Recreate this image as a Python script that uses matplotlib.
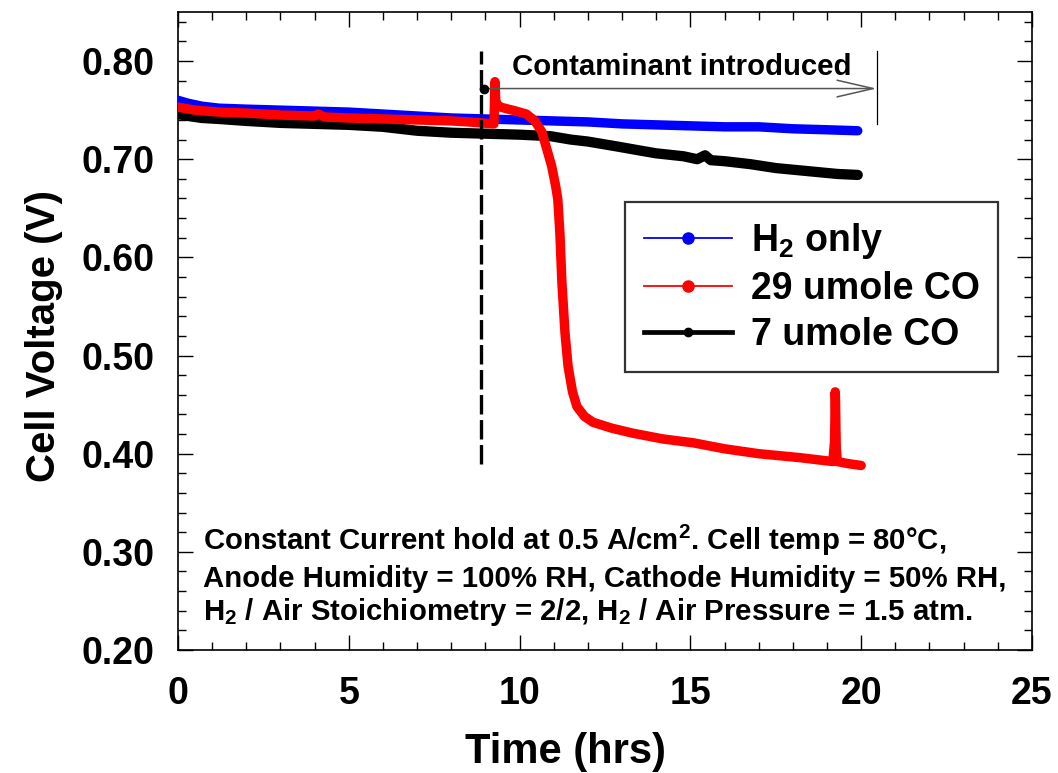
import matplotlib
matplotlib.use("Agg")
import matplotlib.pyplot as plt
from matplotlib.lines import Line2D
from matplotlib.ticker import MultipleLocator, FormatStrFormatter

plt.rcParams['font.family'] = ['Liberation Sans', 'DejaVu Sans']
plt.rcParams['font.weight'] = 'bold'
plt.rcParams['mathtext.fontset'] = 'custom'
plt.rcParams['mathtext.rm'] = 'Liberation Sans:bold'
plt.rcParams['mathtext.it'] = 'Liberation Sans:bold'
plt.rcParams['mathtext.bf'] = 'Liberation Sans:bold'
plt.rcParams['lines.scale_dashes'] = False

# ---- data ----
h2_t = [0, 0.3, 0.7, 1.2, 2, 3, 4, 5, 6, 7, 8, 9, 10, 11, 12, 13, 14, 15, 16, 17, 18, 19, 19.9]
h2_v = [0.760, 0.757, 0.754, 0.752, 0.751, 0.750, 0.749, 0.748, 0.746, 0.744, 0.742, 0.741,
        0.740, 0.739, 0.738, 0.736, 0.735, 0.734, 0.733, 0.733, 0.731, 0.730, 0.729]

co29_t = [0.0, 0.5, 1.2, 2.0, 3.0, 4.0, 4.1, 4.3, 5.0, 6.0, 7.0, 8.0, 8.5, 9.25, 9.28, 9.30,
          9.33, 9.45, 9.9, 10.2, 10.45, 10.65, 10.8, 10.94, 11.06, 11.12, 11.18, 11.24, 11.33,
          11.42, 11.55, 11.68, 11.9, 12.15, 12.7, 13.3, 14.2, 15.1, 16.0, 17.0, 18.2, 19.17,
          19.22, 19.23, 19.24, 19.25, 19.26, 19.27, 19.30, 19.6, 20.0]
co29_v = [0.753, 0.750, 0.748, 0.747, 0.745, 0.744, 0.746, 0.743, 0.742, 0.741, 0.740, 0.739,
          0.738, 0.736, 0.779, 0.761, 0.756, 0.753, 0.749, 0.746, 0.739, 0.728, 0.710, 0.693,
          0.672, 0.659, 0.625, 0.574, 0.523, 0.489, 0.463, 0.448, 0.438, 0.432, 0.426, 0.421,
          0.415, 0.411, 0.405, 0.400, 0.396, 0.392, 0.412, 0.432, 0.463, 0.453, 0.427, 0.407,
          0.392, 0.390, 0.388]

co7_t = [0, 0.3, 0.7, 1.2, 2, 3, 4, 5, 6, 7, 8, 9, 10, 10.9, 11.5, 12, 12.85, 13.5, 14,
         14.8, 15.2, 15.43, 15.6, 16, 16.75, 17.5, 18.7, 19.3, 19.9]
co7_v = [0.746, 0.744, 0.742, 0.741, 0.739, 0.737, 0.736, 0.735, 0.733, 0.729, 0.727, 0.726,
         0.725, 0.7235, 0.720, 0.718, 0.713, 0.709, 0.706, 0.703, 0.700, 0.704, 0.699, 0.698,
         0.695, 0.691, 0.687, 0.685, 0.684]

series_labels = [r'H$_2$ only', '29 umole CO', '7 umole CO']
series_colors = ['#0000FF', '#FF0000', '#000000']

contaminant_t = 8.87
arrow_start = (8.95, 0.772)
arrow_end_t = 20.45

x_ticks = [0, 5, 10, 15, 20, 25]
y_ticks = [0.20, 0.30, 0.40, 0.50, 0.60, 0.70, 0.80]

# ---- figure ----
fig = plt.figure(figsize=(10.58, 7.73), dpi=100)
ax = fig.add_axes([0.1682, 0.1591, 0.8072, 0.8254])

band = 6.8
ax.plot(h2_t, h2_v, color=series_colors[0], lw=band, solid_capstyle='round',
        solid_joinstyle='round', zorder=3)
ax.plot(co7_t, co7_v, color=series_colors[2], lw=band + 0.6, solid_capstyle='round',
        solid_joinstyle='round', zorder=4)
ax.plot(co29_t, co29_v, color=series_colors[1], lw=band, solid_capstyle='round',
        solid_joinstyle='round', zorder=5)

# contaminant marker line
ax.plot([contaminant_t, contaminant_t], [0.389, 0.810], color='black', lw=2.4,
        dashes=(14, 4), zorder=6)
ax.plot([arrow_end_t, arrow_end_t], [0.7357, 0.810], color='black', lw=0.9, zorder=6)
ax.annotate('', xy=(arrow_end_t, arrow_start[1]), xytext=arrow_start,
            arrowprops=dict(arrowstyle='->,head_length=2.6,head_width=0.6',
                            color='#555555', lw=1.1, shrinkA=0, shrinkB=0), zorder=7)
ax.plot([arrow_start[0]], [arrow_start[1]], 'o', color='black', ms=6, zorder=8)
ax.text(9.78, 0.7857, 'Contaminant introduced', fontsize=21.2, fontweight='bold',
        ha='left', va='baseline', zorder=8)

# conditions text
fs_note = 21.2
ax.text(0.73, 0.302, r'Constant Current hold at 0.5 A/cm$^2$. Cell temp = 80°C,',
        fontsize=fs_note, ha='left', va='baseline')
ax.text(0.73, 0.2643, 'Anode Humidity = 100% RH, Cathode Humidity = 50% RH,',
        fontsize=fs_note, ha='left', va='baseline')
ax.text(0.73, 0.2306, r'H$_2$ / Air Stoichiometry = 2/2, H$_2$ / Air Pressure = 1.5 atm.',
        fontsize=fs_note, ha='left', va='baseline')

# axes
ax.set_xlim(0, 25)
ax.set_ylim(0.20, 0.85)
ax.set_xticks(x_ticks)
ax.set_yticks(y_ticks)
ax.yaxis.set_major_formatter(FormatStrFormatter('%.2f'))
ax.xaxis.set_minor_locator(MultipleLocator(1))
ax.yaxis.set_minor_locator(MultipleLocator(0.02))
ax.tick_params(which='both', direction='in', top=True, right=True, width=1.0)
ax.tick_params(which='major', length=11)
ax.tick_params(which='minor', length=5.5)
ax.tick_params(axis='x', which='major', labelsize=27, pad=19)
ax.tick_params(axis='y', which='major', labelsize=27, pad=17)
for lab in ax.get_xticklabels() + ax.get_yticklabels():
    lab.set_fontweight('bold')
for s in ax.spines.values():
    s.set_linewidth(1.2)

ax.set_xlabel('Time (hrs)', fontsize=30, fontweight='bold')
ax.xaxis.set_label_coords(0.454, -0.128)
ax.set_ylabel('Cell Voltage (V)', fontsize=29, fontweight='bold')
ax.yaxis.set_label_coords(-0.1347, 0.492)

# legend
handles = [
    Line2D([], [], color=series_colors[0], lw=1.3, marker='o', ms=8),
    Line2D([], [], color=series_colors[1], lw=1.3, marker='o', ms=8),
    Line2D([], [], color=series_colors[2], lw=3.4, marker='o', ms=6),
]
leg = ax.legend(handles, series_labels, loc='upper left', bbox_to_anchor=(0.5234, 0.702),
                borderaxespad=0, frameon=True, fancybox=False,
                edgecolor='black', handlelength=2.35, handletextpad=0.5,
                labelspacing=0.27, borderpad=0.5, prop={'weight': 'bold', 'size': 27})
leg.get_frame().set_linewidth(1.6)
leg.set_zorder(10)

fig.savefig('out.png', dpi=100)
